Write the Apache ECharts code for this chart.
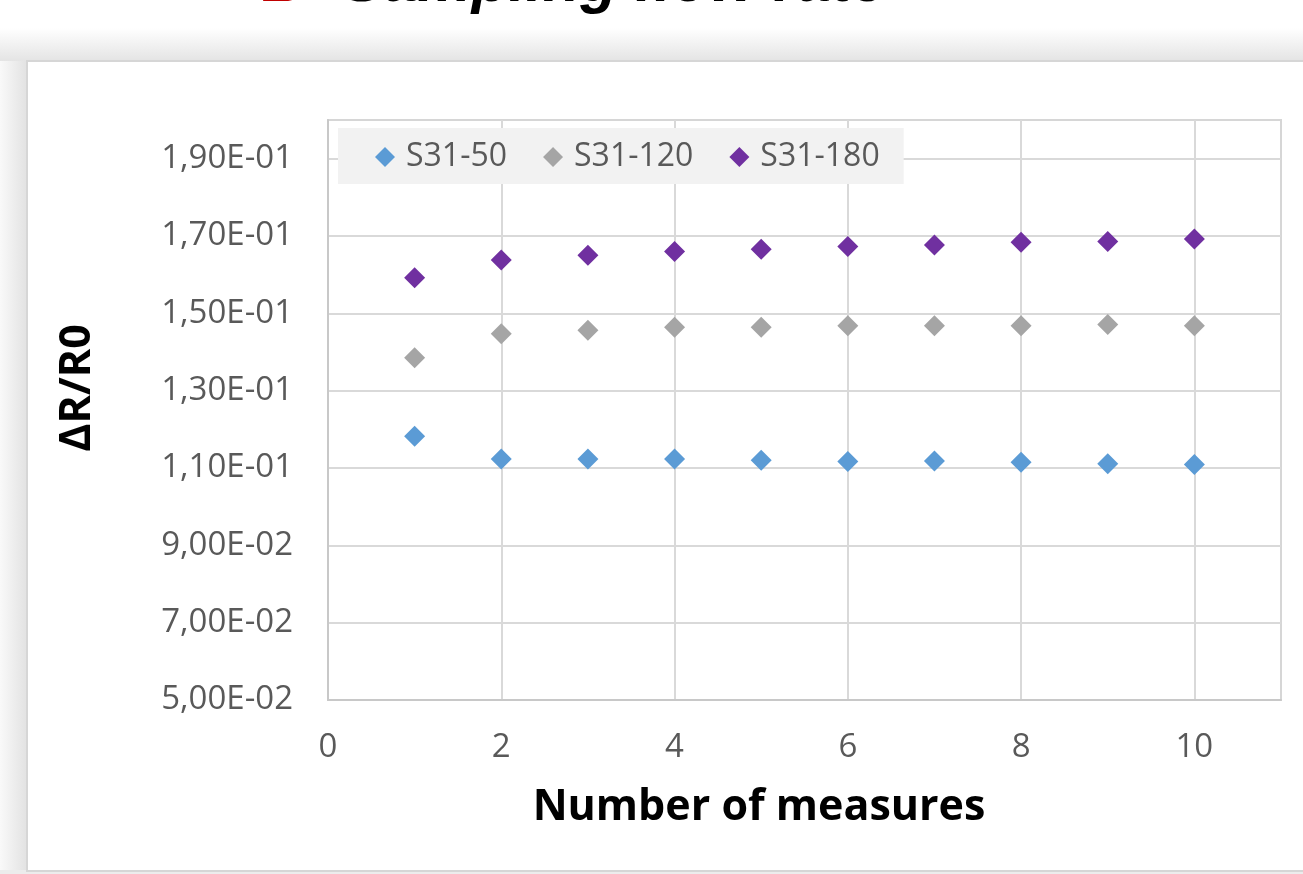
<!DOCTYPE html>
<html>
<head>
<meta charset="utf-8">
<script src="https://cdn.jsdelivr.net/npm/echarts@6/dist/echarts.min.js"></script>
<style>
html,body{margin:0;padding:0;background:#fff;}
#chart{width:1303px;height:874px;}
</style>
</head>
<body>
<div id="chart"></div>
<script>
// ---- data ----
const measures = [1, 2, 3, 4, 5, 6, 7, 8, 9, 10];
const s31_50  = [0.1182, 0.1123, 0.1123, 0.1123, 0.1120, 0.1117, 0.1118, 0.1115, 0.1111, 0.1109];
const s31_120 = [0.1385, 0.1447, 0.1456, 0.1464, 0.1464, 0.1468, 0.1468, 0.1468, 0.1471, 0.1468];
const s31_180 = [0.1592, 0.1638, 0.1650, 0.1660, 0.1666, 0.1673, 0.1677, 0.1684, 0.1686, 0.1692];
const seriesNames = ['S31-50', 'S31-120', 'S31-180'];
const xTicks = [0, 2, 4, 6, 8, 10];
const yTicks = [0.05, 0.07, 0.09, 0.11, 0.13, 0.15, 0.17, 0.19];
const panelLetter = 'B';
const panelTitle = 'Sampling flow rate';
const xTitle = 'Number of measures';
const yTitle = 'ΔR/R0';

function pairs(ys) { return measures.map((x, i) => [x, ys[i]]); }
function sci(v) {
  const s = v.toExponential(2);
  const parts = s.split('e');
  const e = parseInt(parts[1], 10);
  const sign = e < 0 ? '-' : '+';
  return parts[0].replace('.', ',') + 'E' + sign + String(Math.abs(e)).padStart(2, '0');
}

const colors = ['#5b9bd5', '#a5a5a5', '#7030a0'];
const FONT = '"Open Sans", sans-serif';

const chart = echarts.init(document.getElementById('chart'), null, {renderer: 'canvas'});
const option = {
  backgroundColor: '#ffffff',
  animation: false,
  color: colors,
  graphic: [
    {type: 'rect', z: -20, shape: {x: 0, y: 28, width: 1303, height: 33},
     style: {fill: new echarts.graphic.LinearGradient(0, 0, 0, 1, [{offset: 0, color: '#ffffff'}, {offset: 1, color: '#e4e4e4'}])}},
    {type: 'rect', z: -20, shape: {x: 0, y: 61, width: 27, height: 813},
     style: {fill: new echarts.graphic.LinearGradient(0, 0, 1, 0, [{offset: 0, color: '#f9f9f9'}, {offset: 1, color: '#e2e2e2'}])}},
    {type: 'rect', z: -20, shape: {x: 0, y: 870, width: 1303, height: 4}, style: {fill: '#ececec'}},
    {type: 'rect', z: -10, shape: {x: 27, y: 61, width: 1300, height: 810},
     style: {fill: '#ffffff', stroke: '#d6d6d6', lineWidth: 2}},
    {type: 'text', z: 50, x: 259, y: -16,
     style: {text: panelLetter, fill: '#c00000', font: 'bold 62px "Liberation Sans", Arial, sans-serif', verticalAlign: 'middle'}},
    {type: 'text', z: 50, x: 343, y: -16,
     style: {text: panelTitle, fill: '#000000', font: 'italic bold 61px "Liberation Sans", Arial, sans-serif', verticalAlign: 'middle'}},
    {type: 'text', z: 50, x: 759, y: 808,
     style: {text: xTitle, fill: '#000000', font: 'bold 43px ' + FONT, align: 'center', verticalAlign: 'middle'}},
    {type: 'text', z: 50, x: 78, y: 388, rotation: Math.PI / 2,
     style: {text: yTitle, fill: '#000000', font: 'bold 43px ' + FONT, align: 'center', verticalAlign: 'middle'}}
  ],
  legend: {
    left: 338, top: 128,
    backgroundColor: '#f2f2f2',
    padding: [13, 24, 11, 37],
    itemGap: 36,
    itemWidth: 20, itemHeight: 20,
    icon: 'diamond',
    itemStyle: {opacity: 1},
    textStyle: {fontFamily: FONT, fontSize: 32, color: '#595959', padding: [0, 0, 0, 6]},
    data: seriesNames
  },
  grid: {
    left: 328, right: 22, top: 120, bottom: 174,
    show: true, borderColor: '#d6d6d6', borderWidth: 2, backgroundColor: 'transparent'
  },
  xAxis: {
    type: 'value', min: 0, max: 11, interval: 2,
    axisLine: {show: true, lineStyle: {color: '#c8c8c8', width: 2}},
    axisTick: {show: false, customValues: xTicks},
    splitLine: {show: true, lineStyle: {color: '#d9d9d9', width: 2}},
    axisLabel: {customValues: xTicks, fontFamily: FONT, fontSize: 33, color: '#595959', margin: 31}
  },
  yAxis: {
    type: 'value', min: 0.05, max: 0.2,
    axisLine: {show: true, lineStyle: {color: '#c8c8c8', width: 2}},
    axisTick: {show: false, customValues: yTicks},
    splitLine: {show: true, lineStyle: {color: '#d9d9d9', width: 2}},
    axisLabel: {customValues: yTicks, fontFamily: FONT, fontSize: 33, color: '#595959', margin: 35, formatter: sci}
  },
  series: [
    {name: seriesNames[0], type: 'scatter', symbol: 'diamond', symbolSize: 21, data: pairs(s31_50), itemStyle: {color: colors[0], opacity: 1}},
    {name: seriesNames[1], type: 'scatter', symbol: 'diamond', symbolSize: 21, data: pairs(s31_120), itemStyle: {color: colors[1], opacity: 1}},
    {name: seriesNames[2], type: 'scatter', symbol: 'diamond', symbolSize: 21, data: pairs(s31_180), itemStyle: {color: colors[2], opacity: 1}}
  ]
};
chart.setOption(option);
</script>
</body>
</html>
